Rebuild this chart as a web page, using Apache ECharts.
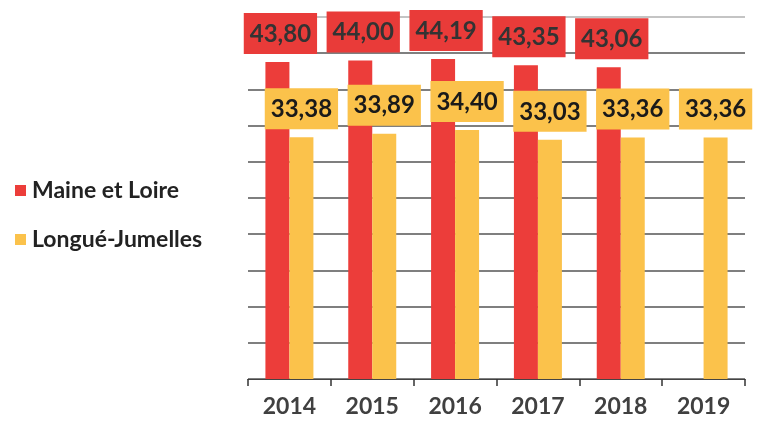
<!DOCTYPE html>
<html>
<head>
<meta charset="utf-8">
<script src="https://cdn.jsdelivr.net/npm/echarts@6/dist/echarts.min.js"></script>
<style>
html,body{margin:0;padding:0;background:#fff;}
#c{width:760px;height:423px;}
</style>
</head>
<body>
<div id="c"></div>
<script>
const years = ['2014', '2015', '2016', '2017', '2018', '2019'];
const maineEtLoire = [43.80, 44.00, 44.19, 43.35, 43.06, null];
const longueJumelles = [33.38, 33.89, 34.40, 33.03, 33.36, 33.36];
const seriesNames = ['Maine et Loire', 'Longué-Jumelles'];

const RED = '#ec3d3a';
const YEL = '#fbc24b';
const FONT = 'Lato';

const fmt = p => p.value == null ? '' : p.value.toFixed(2).replace('.', ',');

const chart = echarts.init(document.getElementById('c'), null, {renderer: 'canvas'});
const gridColors = ['#555','#555','#555','#555','#555','#555','#555','#555','#555','#555','#b0b0b0'];
chart.setOption({
  animation: false,
  textStyle: {fontFamily: FONT},
  grid: {left: 248, right: 15, top: 17, bottom: 44},
  legend: {
    orient: 'vertical',
    left: 10,
    top: 174,
    itemGap: 26,
    icon: 'rect',
    itemWidth: 11,
    itemHeight: 11,
    textStyle: {fontFamily: FONT, fontSize: 23, fontWeight: 'bold', color: '#222', padding: [0, 0, 0, 1]},
    data: seriesNames
  },
  xAxis: {
    type: 'category',
    data: years,
    axisLine: {show: true, lineStyle: {color: '#444', width: 1}},
    axisTick: {show: true, length: 7, lineStyle: {color: '#333', width: 1.5}},
    axisLabel: {fontFamily: FONT, fontSize: 23, fontWeight: 'bold', color: '#404040', margin: 16}
  },
  yAxis: {
    type: 'value',
    min: 0,
    max: 50,
    interval: 5,
    axisLabel: {show: false},
    axisLine: {show: false},
    axisTick: {show: false},
    splitLine: {show: true, lineStyle: {color: gridColors, width: 1.5}}
  },
  series: [
    {
      name: seriesNames[0],
      type: 'bar',
      data: maineEtLoire,
      barWidth: 24,
      barGap: '0%',
      itemStyle: {color: RED},
      label: {
        show: true,
        position: 'top',
        distance: 8,
        offset: [3, 0],
        formatter: fmt,
        fontFamily: FONT,
        fontSize: 24,
        fontWeight: 'bold',
        color: '#333',
        backgroundColor: '#e93b39',
        padding: [9, 6, 8, 6]
      }
    },
    {
      name: seriesNames[1],
      type: 'bar',
      data: longueJumelles,
      barWidth: 24,
      barGap: '0%',
      itemStyle: {color: YEL},
      label: {
        show: true,
        position: 'top',
        distance: 8,
        formatter: fmt,
        fontFamily: FONT,
        fontSize: 24,
        fontWeight: 'bold',
        color: '#1a1a1a',
        backgroundColor: '#fbc24b',
        padding: [9, 6, 8, 6]
      }
    }
  ]
});
</script>
</body>
</html>
